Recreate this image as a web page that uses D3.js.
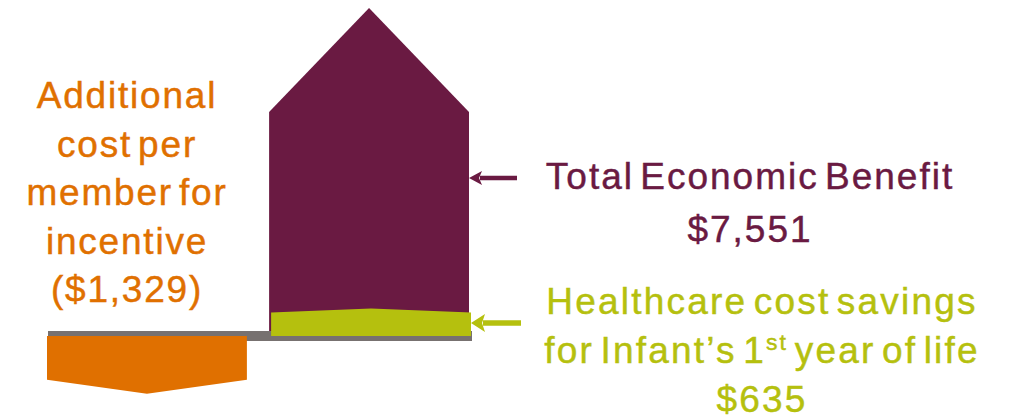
<!DOCTYPE html>
<html>
<head>
<meta charset="utf-8">
<script src="https://cdn.jsdelivr.net/npm/d3@7"></script>
<style>
  html, body { margin: 0; padding: 0; background: #ffffff; }
  svg { display: block; }
  text { font-family: "Liberation Sans", Arial, sans-serif; }
</style>
</head>
<body>
<svg id="chart" width="1009" height="420"></svg>
<script>
// Economic return of the incentive programme (USD per member)
const categories = ["Additional cost", "Total benefit"];
const costValues = [-1329, 0];
const benefitValues = [0, 7551];
const savingsValues = [0, 635];

const costLabel = ["Additional", "cost per", "member for", "incentive", "($1,329)"];
const benefitLabel = ["Total Economic Benefit", "$7,551"];
const savingsLabel = ["Healthcare cost savings", "for Infant\u2019s 1|st| year of life", "$635"];

const colors = { cost: "#e07000", benefit: "#6a1a42", savings: "#b5c00e", base: "#777170" };

const svg = d3.select("#chart");

const x = d3.scaleBand().domain(categories).range([47, 469]).paddingInner(0.1);
const y = d3.scaleLinear().domain([0, 7551]).range([336, 8]);

// Arrow-shaped bar: rectangular body, pointed head at the value end
function arrowBar(x0, w, v, head) {
  const y0 = y(0), y1 = y(v);
  const dir = v >= 0 ? 1 : -1;
  const shoulder = y1 + dir * head;
  const p = d3.path();
  p.moveTo(x0, y0);
  p.lineTo(x0, shoulder);
  p.lineTo(x0 + w / 2, y1);
  p.lineTo(x0 + w, shoulder);
  p.lineTo(x0 + w, y0);
  p.closePath();
  return p.toString();
}

// benefit arrow (behind baseline)
svg.append("path")
  .attr("d", arrowBar(x(categories[1]), x.bandwidth(), benefitValues[1], 104))
  .attr("fill", colors.benefit);

// baseline bar
svg.append("rect")
  .attr("x", x(categories[0]) + 1)
  .attr("y", y(0) - 5)
  .attr("width", x(categories[1]) + x.bandwidth() + 3 - x(categories[0]) - 1)
  .attr("height", 10)
  .attr("fill", colors.base);

// cost arrow (below zero)
svg.append("path")
  .attr("d", arrowBar(x(categories[0]), x.bandwidth(), costValues[0], 14))
  .attr("fill", colors.cost);

// savings segment inside the benefit bar
svg.append("path")
  .attr("d", arrowBar(x(categories[1]) + 2, x.bandwidth(), savingsValues[1], 4))
  .attr("fill", colors.savings);

// pointer arrows
function pointer(yPos, color, x1, x2, hw, hl, sw) {
  svg.append("line")
    .attr("x1", x1 + hl - 2).attr("x2", x2)
    .attr("y1", yPos).attr("y2", yPos)
    .attr("stroke", color).attr("stroke-width", sw);
  svg.append("path")
    .attr("d", `M${x1},${yPos} L${x1 + hl},${yPos - hw} L${x1 + hl - 3},${yPos} L${x1 + hl},${yPos + hw} Z`)
    .attr("fill", color);
}
const benefitRight = x(categories[1]) + x.bandwidth();
pointer(178, colors.benefit, benefitRight, 517, 7, 13, 4.5);
pointer(323, colors.savings, benefitRight + 2, 521, 9, 14, 5.5);

// text blocks
function textBlock(lines, cx, firstBaseline, gap, color, size, spacing) {
  const t = svg.append("g").attr("fill", color)
    .attr("stroke", color).attr("stroke-width", 0.45)
    .attr("font-size", size).attr("letter-spacing", spacing)
    .attr("word-spacing", -6);
  lines.forEach((line, i) => {
    const el = t.append("text")
      .attr("x", cx).attr("y", firstBaseline + i * gap)
      .attr("text-anchor", "middle");
    const parts = line.split("|");
    parts.forEach((part, j) => {
      const ts = el.append("tspan").text(part);
      if (j === 1) ts.attr("font-size", size * 0.62).attr("dy", -size * 0.36);
      if (j === 2) ts.attr("dy", size * 0.36);
    });
  });
}

textBlock(costLabel, 127, 108, 48.5, colors.cost, 37, 1.8);
textBlock(benefitLabel, 750, 189, 52.5, colors.benefit, 37, 2);
textBlock(savingsLabel, 762, 314, 49, colors.savings, 37, 2.2);
</script>
</body>
</html>
